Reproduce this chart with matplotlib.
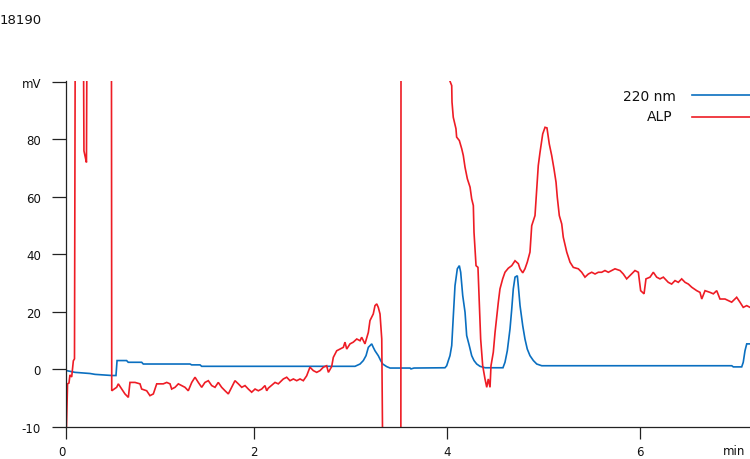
import matplotlib
matplotlib.use("Agg")
import matplotlib.pyplot as plt
from matplotlib.lines import Line2D

# ---- data (time in min, signal in mV; values >100 / < -20 are off-scale) ----
blue_t = [0.059, 0.145, 0.301, 0.353, 0.529, 0.570, 0.581, 0.680, 0.697, 0.836, 0.853,
          1.337, 1.354, 1.441, 1.458, 3.047, 3.099, 3.133, 3.161, 3.185, 3.220, 3.236,
          3.254, 3.288, 3.313, 3.334, 3.375, 3.410, 3.617, 3.627, 3.658, 3.979, 3.997,
          4.014, 4.031, 4.049, 4.065, 4.083, 4.107, 4.128, 4.142, 4.163, 4.187, 4.204,
          4.231, 4.256, 4.280, 4.308, 4.342, 4.394, 4.580, 4.601, 4.625, 4.653, 4.671,
          4.687, 4.705, 4.729, 4.739, 4.757, 4.785, 4.808, 4.832, 4.860, 4.895, 4.930,
          4.982, 6.951, 6.967, 7.054, 7.070, 7.088, 7.106, 7.140]
blue_v = [-0.4, -1.0, -1.4, -1.7, -2.1, -2.1, 3.1, 3.1, 2.5, 2.5, 1.9,
          1.9, 1.6, 1.6, 1.1, 1.1, 1.9, 3.1, 4.8, 7.7, 8.9, 7.7,
          6.5, 4.8, 3.1, 1.9, 1.0, 0.5, 0.5, 0.2, 0.5, 0.6, 1.3,
          3.1, 4.8, 8.3, 18.2, 29.1, 35.0, 36.1, 33.8, 25.7, 19.9, 11.8,
          8.3, 4.8, 3.1, 1.9, 1.1, 0.6, 0.6, 2.5, 6.5, 14.1, 21.0,
          28.0, 32.1, 32.6, 29.1, 22.2, 15.2, 10.6, 7.1, 4.8, 3.1, 1.9,
          1.3, 1.3, 0.9, 0.9, 2.5, 6.5, 8.9, 8.9]

red_t = [0.057, 0.068, 0.083, 0.093, 0.111, 0.119, 0.128, 0.140, 0.150, 0.228, 0.238,
         0.247, 0.257, 0.264, 0.273, 0.522, 0.526, 0.577, 0.594, 0.629, 0.663, 0.698,
         0.715, 0.767, 0.819, 0.836, 0.888, 0.922, 0.957, 0.992, 1.060, 1.096, 1.130,
         1.147, 1.182, 1.216, 1.251, 1.285, 1.319, 1.355, 1.389, 1.423, 1.458, 1.492,
         1.527, 1.562, 1.596, 1.630, 1.665, 1.700, 1.734, 1.769, 1.803, 1.838, 1.873,
         1.907, 1.941, 1.976, 2.011, 2.045, 2.080, 2.114, 2.132, 2.148, 2.218, 2.252,
         2.304, 2.339, 2.373, 2.408, 2.443, 2.477, 2.511, 2.546, 2.580, 2.615, 2.650,
         2.684, 2.719, 2.753, 2.771, 2.805, 2.822, 2.857, 2.891, 2.926, 2.943, 2.961,
         2.995, 3.029, 3.065, 3.099, 3.116, 3.150, 3.185, 3.202, 3.236, 3.254, 3.272,
         3.288, 3.306, 3.324, 3.334, 3.522, 3.524, 4.017, 4.022, 4.049, 4.052, 4.065,
         4.093, 4.100, 4.128, 4.153, 4.169, 4.187, 4.211, 4.239, 4.256, 4.273, 4.280,
         4.301, 4.321, 4.335, 4.349, 4.370, 4.394, 4.412, 4.428, 4.446, 4.456, 4.480,
         4.498, 4.532, 4.549, 4.577, 4.601, 4.635, 4.671, 4.705, 4.739, 4.757, 4.785,
         4.808, 4.832, 4.860, 4.878, 4.912, 4.930, 4.946, 4.964, 4.992, 5.016, 5.036,
         5.060, 5.085, 5.109, 5.130, 5.143, 5.164, 5.189, 5.205, 5.241, 5.275, 5.309,
         5.361, 5.396, 5.430, 5.465, 5.500, 5.534, 5.568, 5.603, 5.637, 5.672, 5.707,
         5.741, 5.793, 5.827, 5.862, 5.897, 5.948, 5.983, 6.007, 6.042, 6.062, 6.104,
         6.138, 6.173, 6.207, 6.242, 6.293, 6.328, 6.363, 6.397, 6.432, 6.467, 6.501,
         6.536, 6.588, 6.622, 6.640, 6.674, 6.726, 6.760, 6.795, 6.829, 6.881, 6.950,
         7.002, 7.036, 7.070, 7.106, 7.140]
red_v = [-19.7, -5.0, -4.7, -1.9, -2.6, 0.2, 3.0, 3.7, 150, 150, 76,
         74.5, 73, 72, 150, 150, -7.4, -6.2, -5.0, -6.8, -8.5, -9.7,
         -4.5, -4.5, -5.0, -6.8, -7.4, -9.1, -8.5, -5.0, -5.0, -4.5, -5.0,
         -6.8, -6.2, -5.0, -5.6, -6.2, -7.4, -4.5, -2.7, -4.5, -6.2, -4.5,
         -3.9, -5.6, -6.2, -4.5, -6.2, -7.4, -8.5, -6.2, -3.9, -5.0, -6.2,
         -5.6, -6.8, -7.9, -6.8, -7.4, -6.8, -5.6, -7.4, -6.5, -4.5, -5.0,
         -3.3, -2.7, -3.9, -3.3, -3.9, -3.3, -3.9, -2.2, 0.8, -0.4, -1.0,
         -0.4, 0.8, 1.3, -1.0, 1.0, 4.2, 6.5, 7.1, 7.7, 9.5, 7.1,
         8.9, 9.5, 10.6, 10.0, 11.2, 8.9, 12.9, 17.0, 19.3, 22.2, 22.8,
         21.6, 19.3, 10.6, -30, -30, 150, 150, 101, 98.7, 93, 87.7,
         83.7, 80.8, 79.6, 76.7, 74.4, 70.3, 66.3, 63.4, 59.3, 57.0, 47.7,
         36.1, 35.5, 23.4, 10.6, 1.3, -3.3, -6.2, -3.3, -6.2, 1.3, 6.0,
         12.9, 23.4, 28.0, 31.5, 33.8, 35.2, 36.1, 37.8, 36.8, 35.0, 33.6,
         35.0, 37.3, 40.8, 50.0, 53.5, 62.8, 70.9, 75.5, 81.9, 84.2, 84.0,
         78.4, 74.4, 69.7, 65.1, 59.9, 53.5, 50.6, 46.0, 40.8, 37.3, 35.5,
         35.0, 33.8, 32.1, 33.2, 33.8, 33.2, 33.8, 33.8, 34.4, 33.8, 34.4,
         35.0, 34.4, 33.2, 31.5, 32.7, 34.4, 33.8, 27.4, 26.3, 31.5, 32.1,
         33.8, 32.1, 31.5, 32.1, 30.3, 29.7, 30.9, 30.3, 31.5, 30.3, 29.7,
         28.6, 27.4, 26.8, 24.5, 27.4, 26.8, 26.3, 27.4, 24.5, 24.5, 23.4,
         25.1, 23.4, 21.6, 22.2, 21.6]

y_ticks = [-20, 0, 20, 40, 60, 80, 100]
y_labels = ["-10", "0", "20", "40", "60", "80", "mV"]
x_ticks = [0.052, 2, 4, 6]
x_labels = ["0", "2", "4", "6"]
x_unit = "min"
series_names = ["220 nm", "ALP"]
title = "18190"

BLUE = "#0a6fc0"
RED = "#ee1c25"

plt.rcParams["font.family"] = ["DejaVu Sans"]

fig = plt.figure(figsize=(7.5, 4.6), dpi=100)
ax = fig.add_axes([66 / 750, 32 / 460, 684 / 750, 346 / 460])
ax.plot(blue_t, blue_v, color=BLUE, lw=1.2, solid_joinstyle="miter")
ax.plot(red_t, red_v, color=RED, lw=1.2, solid_joinstyle="miter")

ax.set_xlim(0.052, 7.140)
ax.set_ylim(-20, 100.3)
for s in ("top", "right"):
    ax.spines[s].set_visible(False)
for s in ("left", "bottom"):
    ax.spines[s].set_linewidth(0.9)
    ax.spines[s].set_color("#222222")

ax.set_yticks(y_ticks)
ax.set_yticklabels(y_labels)
ax.set_xticks(x_ticks)
ax.set_xticklabels(x_labels)
ax.tick_params(axis="y", length=10, width=0.9, pad=8, labelsize=8.5, colors="#222222")
ax.tick_params(axis="x", length=8.5, width=0.9, pad=4.5, labelsize=8.5, colors="#222222")
for lbl in ax.get_xticklabels() + ax.get_yticklabels():
    lbl.set_color("#111111")
ax.get_xticklabels()[0].set_horizontalalignment("right")
ax.xaxis.get_major_ticks()[0].tick1line.set_color("#9a9a9a")

fig.text(734 / 750, 1 - 452 / 460, x_unit, ha="center", va="center", fontsize=8.5, color="#111111")
fig.text(0.0, 1 - 20 / 460, title, ha="left", va="center", fontsize=9.5, color="#111111")

# legend
fig.text(676 / 750, 1 - 97 / 460, series_names[0], ha="right", va="center", fontsize=10, color="#111111")
fig.text(673 / 750, 1 - 117 / 460, series_names[1], ha="right", va="center", fontsize=10, color="#111111")
fig.add_artist(Line2D([692 / 750, 750 / 750], [1 - 96 / 460] * 2, color=BLUE, lw=1.2,
                      transform=fig.transFigure))
fig.add_artist(Line2D([692 / 750, 750 / 750], [1 - 118 / 460] * 2, color=RED, lw=1.2,
                      transform=fig.transFigure))

fig.savefig("out.png", dpi=100)
